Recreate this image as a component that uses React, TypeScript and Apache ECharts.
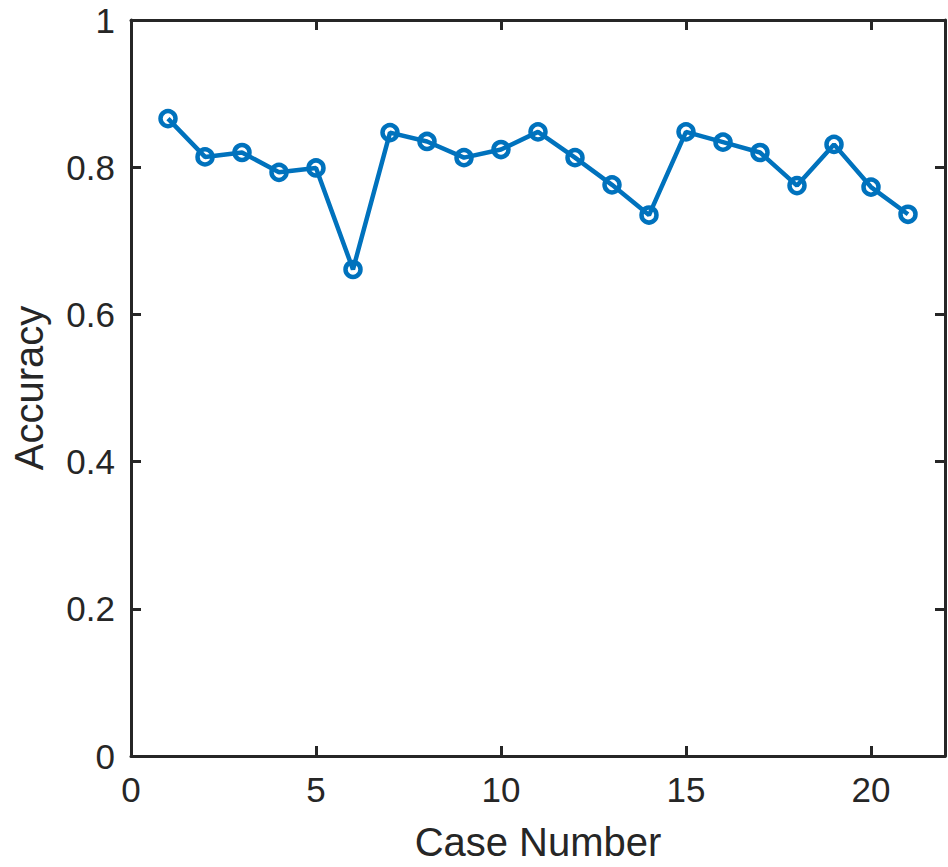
import React, { useEffect, useRef } from "react";
import * as echarts from "echarts";

const caseNumbers = [1, 2, 3, 4, 5, 6, 7, 8, 9, 10, 11, 12, 13, 14, 15, 16, 17, 18, 19, 20, 21];
const accuracy = [0.866, 0.814, 0.82, 0.793, 0.799, 0.661, 0.847, 0.835, 0.813, 0.824, 0.848, 0.813, 0.776, 0.735, 0.848, 0.834, 0.82, 0.775, 0.831, 0.773, 0.736];

const xLabel = "Case Number";
const yLabel = "Accuracy";

const AXIS_COLOR = "#262626";
const LINE_COLOR = "#0072BD";
const FONT = "'Liberation Sans', Arial, Helvetica, sans-serif";

export default function App() {
  const ref = useRef<HTMLDivElement>(null);
  useEffect(() => {
    if (!ref.current) return;
    const chart = echarts.init(ref.current, null, { renderer: "svg" });
    const axisLine = { show: true, onZero: false, lineStyle: { color: AXIS_COLOR, width: 3 } };
    const axisTick = { show: true, inside: true, length: 10, lineStyle: { color: AXIS_COLOR, width: 3 } };
    chart.setOption({
      animation: false,
      backgroundColor: "#ffffff",
      grid: { left: 131, right: 3, top: 20, bottom: 103, containLabel: false },
      xAxis: [
        {
          type: "value",
          min: 0,
          max: 22,
          interval: 5,
          position: "bottom",
          name: xLabel,
          nameLocation: "middle",
          nameGap: 66,
          nameTextStyle: { fontFamily: FONT, fontSize: 40, color: AXIS_COLOR },
          axisLine,
          axisTick,
          splitLine: { show: false },
          axisLabel: { showMaxLabel: false, margin: 16, fontFamily: FONT, fontSize: 35, color: AXIS_COLOR },
        },
        {
          type: "value",
          min: 0,
          max: 22,
          interval: 5,
          position: "top",
          axisLine,
          axisTick,
          splitLine: { show: false },
          axisLabel: { show: false },
        },
      ],
      yAxis: [
        {
          type: "value",
          min: 0,
          max: 1,
          interval: 0.2,
          position: "left",
          name: yLabel,
          nameLocation: "middle",
          nameRotate: 90,
          nameGap: 82,
          nameTextStyle: { fontFamily: FONT, fontSize: 40, color: AXIS_COLOR },
          axisLine,
          axisTick,
          splitLine: { show: false },
          axisLabel: {
            margin: 16,
            fontFamily: FONT,
            fontSize: 35,
            color: AXIS_COLOR,
            formatter: (v: number) => (v === 0 || v === 1 ? String(v) : v.toFixed(1)),
          },
        },
        {
          type: "value",
          min: 0,
          max: 1,
          interval: 0.2,
          position: "right",
          axisLine,
          axisTick,
          splitLine: { show: false },
          axisLabel: { show: false },
        },
      ],
      series: [
        {
          type: "line",
          data: caseNumbers.map((c, i) => [c, accuracy[i]]),
          xAxisIndex: 0,
          yAxisIndex: 0,
          symbol: "circle",
          symbolSize: 15,
          showAllSymbol: true,
          lineStyle: { color: LINE_COLOR, width: 4.5 },
          itemStyle: { color: "rgba(255,255,255,0)", borderColor: LINE_COLOR, borderWidth: 4.5 },
          z: 3,
        },
      ],
    });
    return () => chart.dispose();
  }, []);
  return <div ref={ref} style={{ position: "absolute", left: 0, top: 0, width: 948, height: 867 }} />;
}
